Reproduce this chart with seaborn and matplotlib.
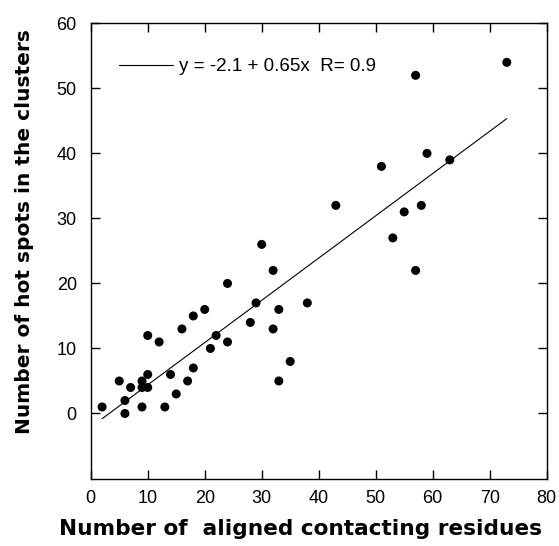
import numpy as np
import pandas as pd
import matplotlib
matplotlib.use("Agg")
import matplotlib.pyplot as plt
import seaborn as sns

# Aligned contacting residues vs. hot spots found in each cluster
contacting_residues = [2, 6, 6, 5, 7, 9, 9, 10, 10, 9, 10, 12, 13, 14, 15, 16, 18, 20,
                       17, 18, 22, 21, 24, 24, 28, 29, 30, 32, 32, 33, 38, 43, 33, 35,
                       51, 57, 73, 59, 63, 58, 55, 53, 57]
hot_spots = [1, 0, 2, 5, 4, 5, 4, 6, 4, 1, 12, 11, 1, 6, 3, 13, 15, 16,
             5, 7, 12, 10, 11, 20, 14, 17, 26, 22, 13, 16, 17, 32, 5, 8,
             38, 52, 54, 40, 39, 32, 31, 27, 22]

# Linear fit as reported in the legend
intercept = -2.1
slope = 0.65
r_value = 0.9

x_ticks = [0, 10, 20, 30, 40, 50, 60, 70, 80]
y_ticks = [0, 10, 20, 30, 40, 50, 60]

df = pd.DataFrame({"residues": contacting_residues, "hotspots": hot_spots})
x_fit = np.array([min(contacting_residues), max(contacting_residues)], dtype=float)
fit_df = pd.DataFrame({"x": x_fit, "y": intercept + slope * x_fit})

sns.set_style("ticks")
plt.rcParams["font.family"] = ["Liberation Sans", "DejaVu Sans"]
plt.rcParams["text.color"] = "black"
plt.rcParams["axes.labelcolor"] = "black"

fig = plt.figure(figsize=(5.59, 5.46), dpi=100)
ax = fig.add_axes([0.1623, 0.1236, 0.8157, 0.8337])

fit_label = f"y = {intercept} + {slope}x  R= {r_value}"
sns.lineplot(data=fit_df, x="x", y="y", ax=ax, color="black", linewidth=0.8,
             label=fit_label)
sns.scatterplot(data=df, x="residues", y="hotspots", ax=ax, color="black",
                s=42, edgecolor="none", linewidth=0, legend=False, zorder=3)

ax.set_xlim(0, 80)
ax.set_ylim(-10, 60)
ax.set_xticks(x_ticks)
ax.set_yticks(y_ticks)
ax.tick_params(direction="in", length=6.5, width=1.0, top=True, right=True,
               labelsize=13, colors="black")
ax.tick_params(axis="y", pad=10)
ax.tick_params(axis="x", pad=8)
for side in ["left", "right", "top", "bottom"]:
    ax.spines[side].set_visible(True)
    ax.spines[side].set_linewidth(1.0)
    ax.spines[side].set_color("black")

label_font = {"family": ["DejaVu Sans"], "weight": "bold", "color": "black"}
ax.set_xlabel("Number of  aligned contacting residues", fontsize=15.6,
              fontdict=label_font, labelpad=9)
ax.set_ylabel("Number of hot spots in the clusters", fontsize=14.5,
              fontdict=label_font, labelpad=16)
ax.xaxis.label.set_x(0.46)
ax.yaxis.label.set_y(0.543)

leg = ax.legend(loc="upper left", bbox_to_anchor=(0.045, 0.94), frameon=False,
                handlelength=2.9, handletextpad=0.3, fontsize=13.5,
                borderaxespad=0)

fig.savefig("out.png", dpi=100, facecolor="white")
